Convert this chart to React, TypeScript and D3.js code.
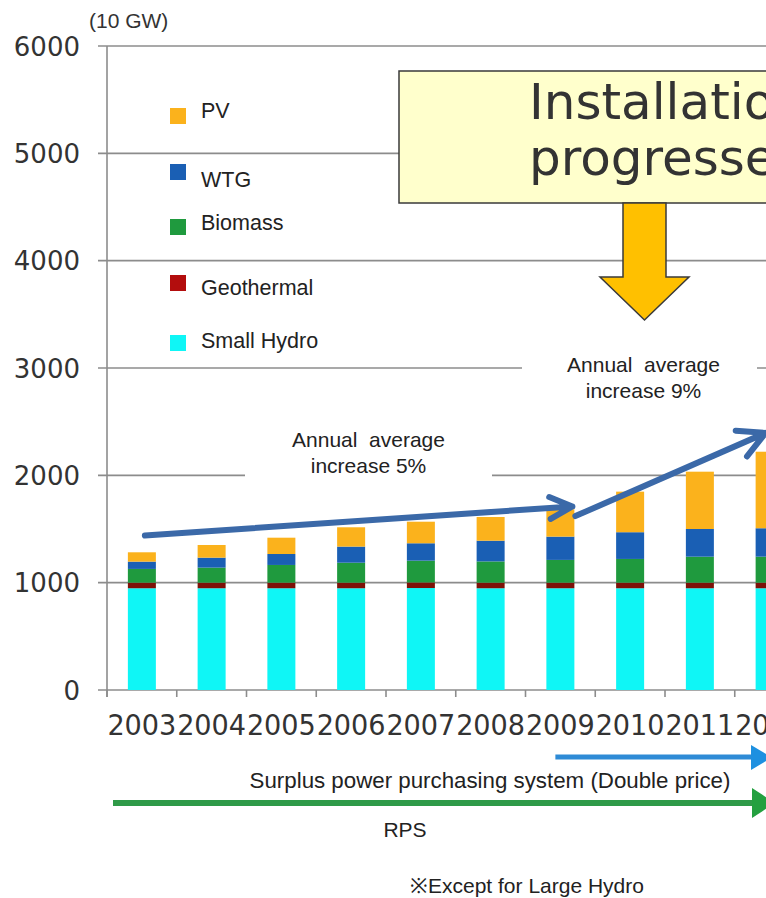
import React from "react";
import * as d3 from "d3";

const years = ["2003", "2004", "2005", "2006", "2007", "2008", "2009", "2010", "2011", "2012"];
const smallHydro = [948, 948, 948, 948, 950, 948, 948, 948, 948, 948];
const geothermal = [52, 52, 52, 52, 52, 52, 52, 52, 52, 52];
const biomass = [128, 140, 165, 186, 203, 198, 212, 221, 242, 242];
const wtg = [68, 93, 102, 150, 162, 193, 217, 249, 258, 265];
const pv = [87, 118, 152, 180, 201, 221, 255, 378, 534, 713];
const yTicks = [0, 1000, 2000, 3000, 4000, 5000, 6000];

const seriesKeys = ["Small Hydro", "Geothermal", "Biomass", "WTG", "PV"];
const seriesColors: Record<string, string> = {
  "Small Hydro": "#0ff6f6",
  Geothermal: "#7d1208",
  Biomass: "#1f9a3e",
  WTG: "#1a5fb4",
  PV: "#fbb21c",
};
const legendOrder = ["PV", "WTG", "Biomass", "Geothermal", "Small Hydro"];
const legendColors: Record<string, string> = { ...seriesColors, Geothermal: "#b30d0d" };

const W = 766;
const H = 898;
const ARIAL = "'Liberation Sans', Arial, sans-serif";
const DEJAVU = "'DejaVu Sans', Verdana, sans-serif";

export default function App() {
  const x = d3.scaleBand<string>().domain(years).range([107, 107 + 69.75 * years.length]).padding(0);
  const y = d3.scaleLinear().domain([0, 6000]).range([690, 46]);
  const step = x.step();
  const bw = 28;

  const rows = years.map((yr, i) => ({
    year: yr,
    "Small Hydro": smallHydro[i],
    Geothermal: geothermal[i],
    Biomass: biomass[i],
    WTG: wtg[i],
    PV: pv[i],
  }));
  const stacked = d3.stack<any>().keys(seriesKeys)(rows);

  const cx = (yr: string) => (x(yr) as number) + step / 2;

  const arrow = (x1: number, y1: number, x2: number, y2: number, len: number, spread: number) => {
    const ang = Math.atan2(y1 - y2, x1 - x2);
    const a = (spread * Math.PI) / 180;
    const p1 = [x2 + len * Math.cos(ang + a), y2 + len * Math.sin(ang + a)];
    const p2 = [x2 + len * Math.cos(ang - a), y2 + len * Math.sin(ang - a)];
    return `M${x1},${y1}L${x2},${y2}M${p1[0]},${p1[1]}L${x2},${y2}L${p2[0]},${p2[1]}`;
  };
  const a1 = arrow(cx("2003") + 3, y(1440), cx("2009") + 12, y(1710), 25, 26);
  const a2 = arrow(cx("2009") + 15, y(1620), cx("2012") - 4, y(2395), 30, 28);

  const legendY = [116, 172, 227, 283, 343];
  const legendTextY = [118, 187, 230, 295, 348];

  const tickXs = d3.range(years.length + 1).map((i) => 107 + i * step);

  return (
    <svg width={W} height={H} style={{ position: "absolute", left: 0, top: 0, display: "block", background: "#fff" }}>
      <rect x={0} y={0} width={W} height={H} fill="#fff" />
      {yTicks.map((t) => (
        <line key={t} x1={98} x2={W} y1={y(t)} y2={y(t)} stroke="#8c8c8c" strokeWidth={1.6} />
      ))}
      <line x1={107} x2={107} y1={y(6000)} y2={697} stroke="#8c8c8c" strokeWidth={1.6} />
      {tickXs.map((tx, i) => (
        <line key={i} x1={tx} x2={tx} y1={690} y2={697} stroke="#8c8c8c" strokeWidth={1.6} />
      ))}
      {yTicks.map((t) => (
        <text key={t} x={80} y={y(t) + 9.5} textAnchor="end" fontFamily={DEJAVU} fontSize={26} fill="#333">
          {t}
        </text>
      ))}
      <text x={89} y={28} fontFamily={ARIAL} fontSize={21} fill="#333">
        (10 GW)
      </text>

      <rect x={245} y={420} width={247} height={62} fill="#fff" />
      <rect x={522} y={345} width={235} height={60} fill="#fff" />

      {stacked.map((s) => (
        <g key={s.key} fill={seriesColors[s.key]}>
          {s.map((d, i) => (
            <rect
              key={i}
              x={(x(years[i]) as number) + (step - bw) / 2}
              y={y(d[1])}
              width={bw}
              height={y(d[0]) - y(d[1])}
            />
          ))}
        </g>
      ))}

      {legendOrder.map((k, i) => (
        <g key={k}>
          <rect x={170} y={legendY[i] - 8} width={16} height={16} fill={legendColors[k]} />
          <text x={201} y={legendTextY[i]} fontFamily={ARIAL} fontSize={21.5} fill="#222">
            {k}
          </text>
        </g>
      ))}

      {years.map((yr) => (
        <text
          key={yr}
          x={cx(yr)}
          y={735}
          textAnchor="middle"
          fontFamily={DEJAVU}
          fontSize={29}
          fill="#333"
          textLength={69}
          lengthAdjust="spacingAndGlyphs"
        >
          {yr}
        </text>
      ))}

      <text x={368.5} y={447} textAnchor="middle" fontFamily={ARIAL} fontSize={21} fill="#222" style={{ whiteSpace: "pre" }}>
        {"Annual  average"}
      </text>
      <text x={368.5} y={473} textAnchor="middle" fontFamily={ARIAL} fontSize={21} fill="#222">
        increase 5%
      </text>
      <text x={643.5} y={372} textAnchor="middle" fontFamily={ARIAL} fontSize={21} fill="#222" style={{ whiteSpace: "pre" }}>
        {"Annual  average"}
      </text>
      <text x={643.5} y={398} textAnchor="middle" fontFamily={ARIAL} fontSize={21} fill="#222">
        increase 9%
      </text>

      <path d={a1} fill="none" stroke="#3b69a8" strokeWidth={6} strokeLinecap="round" strokeLinejoin="round" />
      <path d={a2} fill="none" stroke="#3b69a8" strokeWidth={6} strokeLinecap="round" strokeLinejoin="round" />

      <rect x={399} y={71} width={400} height={132} fill="#ffffcc" stroke="#3a3a3a" strokeWidth={1.5} />
      <text x={529} y={119} fontFamily={DEJAVU} fontSize={50} fill="#333">
        Installation has
      </text>
      <text x={529} y={175} fontFamily={DEJAVU} fontSize={50} fill="#333">
        progressed rapidly
      </text>
      <path
        d="M623,203L666,203L666,277L689,277L644.5,320L600,277L623,277Z"
        fill="#ffc000"
        stroke="#3a3a3a"
        strokeWidth={1.5}
        strokeLinejoin="miter"
      />

      <line x1={cx("2009") - 5} x2={752} y1={757} y2={757} stroke="#2e8bd6" strokeWidth={5} />
      <path d="M751,745L751,770L772,757.5Z" fill="#1e90e0" />
      <text x={490} y={788} textAnchor="middle" fontFamily={ARIAL} fontSize={22.3} fill="#222">
        Surplus power purchasing system (Double price)
      </text>
      <line x1={(x("2003") as number) + 6} x2={753} y1={803} y2={803} stroke="#2f9a48" strokeWidth={6} />
      <path d="M752,788L752,818L775,803Z" fill="#24a040" />
      <text x={405} y={837} textAnchor="middle" fontFamily={ARIAL} fontSize={21} fill="#222">
        RPS
      </text>
      <text x={410} y={893} fontFamily={ARIAL} fontSize={21} fill="#222">
        ※Except for Large Hydro
      </text>
    </svg>
  );
}
